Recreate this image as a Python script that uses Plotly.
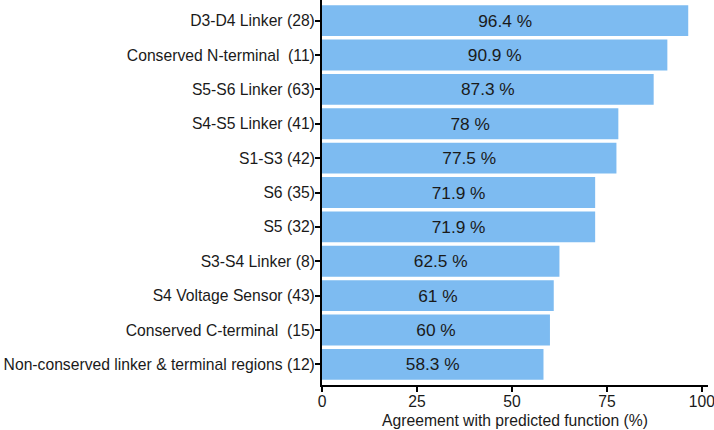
import plotly.graph_objects as go

categories = [
    "D3-D4 Linker (28)",
    "Conserved N-terminal\u00a0 (11)",
    "S5-S6 Linker (63)",
    "S4-S5 Linker (41)",
    "S1-S3 (42)",
    "S6 (35)",
    "S5 (32)",
    "S3-S4 Linker (8)",
    "S4 Voltage Sensor (43)",
    "Conserved C-terminal\u00a0 (15)",
    "Non-conserved linker & terminal regions (12)",
]
values = [96.4, 90.9, 87.3, 78, 77.5, 71.9, 71.9, 62.5, 61, 60, 58.3]
labels = ["96.4 %", "90.9 %", "87.3 %", "78 %", "77.5 %", "71.9 %", "71.9 %",
          "62.5 %", "61 %", "60 %", "58.3 %"]
x_ticks = [0, 25, 50, 75, 100]

FONT = "Liberation Sans, Arial, sans-serif"

fig = go.Figure(go.Bar(
    x=values,
    y=categories,
    orientation="h",
    width=0.9,
    marker=dict(color="#7dbbf1", line=dict(width=0)),
    text=labels,
    textposition="inside",
    insidetextanchor="middle",
    constraintext="none",
    textangle=0,
    textfont=dict(family=FONT, size=17.3, color="#1a1a1a"),
    hoverinfo="skip",
))

fig.update_layout(
    width=714, height=430,
    margin=dict(l=322, r=6, t=0, b=45, autoexpand=False),
    plot_bgcolor="white", paper_bgcolor="white",
    showlegend=False,
    font=dict(family=FONT, size=15.7, color="#1a1a1a"),
    xaxis=dict(
        range=[0, 101.6],
        tickvals=x_ticks,
        ticktext=[str(v) for v in x_ticks],
        showgrid=False, zeroline=False,
        showline=True, linecolor="black", linewidth=2,
        ticks="outside", ticklen=5, tickwidth=1.5, tickcolor="black",
        tickfont=dict(family=FONT, size=15.7, color="#1a1a1a"),
        ticklabeloverflow="allow",
        ticklabelstandoff=-4,
        automargin=False,
        title=dict(text="Agreement with predicted function (%)",
                   font=dict(family=FONT, size=15.7, color="#1a1a1a"),
                   standoff=6),
    ),
    yaxis=dict(
        categoryorder="array", categoryarray=categories,
        range=[10.6, -0.6],
        showgrid=False, zeroline=False,
        showline=True, linecolor="black", linewidth=2,
        ticks="outside", ticklen=5, tickwidth=1.5, tickcolor="black",
        tickfont=dict(family=FONT, size=15.7, color="#1a1a1a"),
        ticklabeloverflow="allow",
        automargin=False,
        ticklabelstandoff=-3,
    ),
)

fig.write_html(
    "out.html",
    config={"displayModeBar": False},
    post_script="document.body.style.margin='0';document.body.style.overflow='hidden';",
)
